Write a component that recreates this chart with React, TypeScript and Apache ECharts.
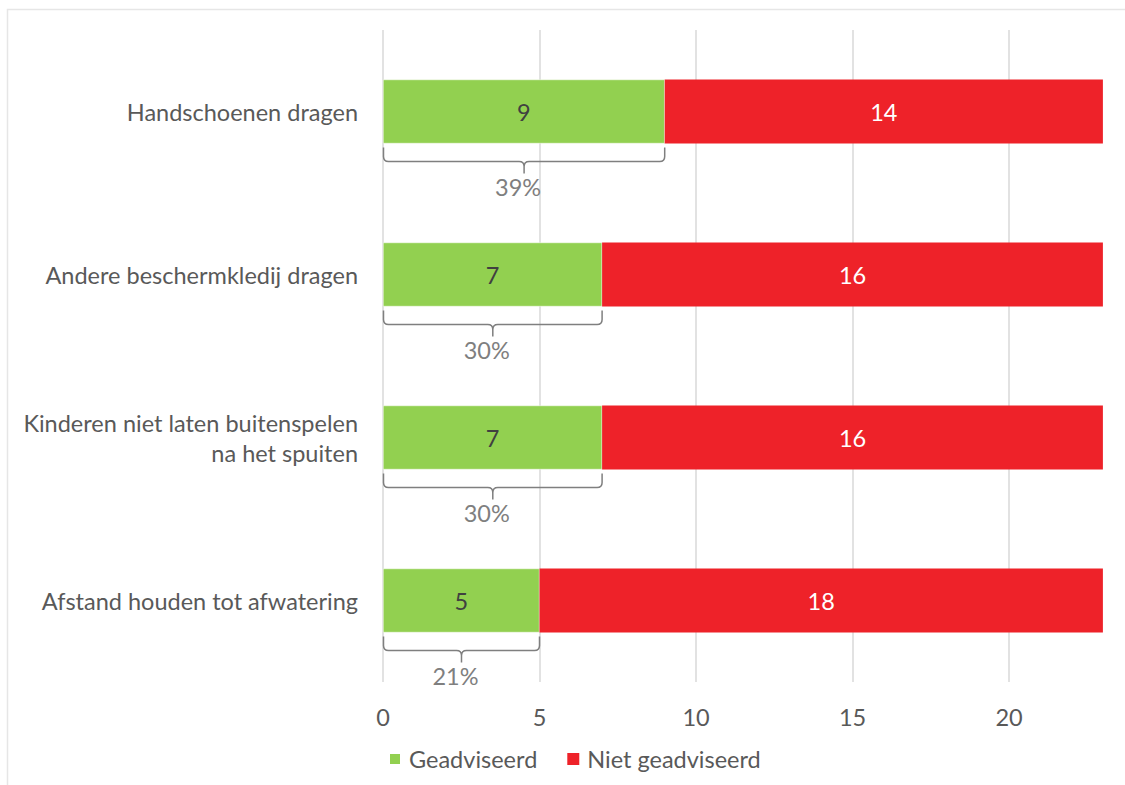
import React, { useEffect, useRef } from "react";
import * as echarts from "echarts";

const categories = [
  "Handschoenen dragen",
  "Andere beschermkledij dragen",
  "Kinderen niet laten buitenspelen\nna het spuiten",
  "Afstand houden tot afwatering",
];
const geadviseerd = [9, 7, 7, 5];
const nietGeadviseerd = [14, 16, 16, 18];
const percentLabels = ["39%", "30%", "30%", "21%"];
const xTicks = [0, 5, 10, 15, 20, 25];

const FONT = "Lato, 'Noto Sans', sans-serif";
const FS = 23.5;
const GREEN = "#92d050";
const RED = "#ee2229";
const TEXT = "#595959";
const BRACKET = "#7f7f7f";

export default function App() {
  const ref = useRef<HTMLDivElement>(null);
  useEffect(() => {
    if (!ref.current) return;
    const chart = echarts.init(ref.current, undefined, { renderer: "svg" });
    const bracketData = geadviseerd.map((v, i) => [v, i, percentLabels[i]]);
    chart.setOption({
      animation: false,
      backgroundColor: "#ffffff",
      textStyle: { fontFamily: FONT },
      graphic: [
        {
          type: "rect",
          shape: { x: 7.5, y: 9.5, width: 1200, height: 900 },
          style: { fill: "none", stroke: "#e6e6e6", lineWidth: 1.5 },
          silent: true,
          z: -10,
        },
      ],
      grid: {
        left: 383,
        width: 782.5,
        top: 30,
        bottom: 103,
        containLabel: false,
        outerBoundsMode: "none",
      },
      legend: {
        bottom: 9,
        left: 383,
        itemWidth: 12,
        itemHeight: 12,
        itemGap: 30,
        icon: "rect",
        textStyle: { color: TEXT, fontSize: FS, fontFamily: FONT, padding: [0, 0, 0, 3] },
        data: ["Geadviseerd", "Niet geadviseerd"],
      },
      xAxis: {
        type: "value",
        min: 0,
        max: xTicks[xTicks.length - 1],
        interval: 5,
        axisLine: { show: false },
        axisTick: { show: false },
        splitLine: { show: true, lineStyle: { color: "#d9d9d9", width: 1.5 } },
        axisLabel: {
          color: TEXT,
          fontSize: FS,
          fontFamily: FONT,
          margin: 23,
          showMaxLabel: false,
        },
      },
      yAxis: {
        type: "category",
        data: categories,
        inverse: true,
        axisLine: { show: false },
        axisTick: { show: false },
        axisLabel: {
          color: TEXT,
          fontSize: FS,
          fontFamily: FONT,
          margin: 25,
          lineHeight: 30,
          align: "right",
        },
      },
      series: [
        {
          name: "Geadviseerd",
          type: "bar",
          stack: "total",
          barWidth: 64,
          data: geadviseerd,
          itemStyle: { color: GREEN, borderColor: "#ffffff", borderWidth: 0.5 },
          label: {
            show: true,
            position: "inside",
            color: "#404040",
            fontSize: FS,
            fontFamily: FONT,
          },
        },
        {
          name: "Niet geadviseerd",
          type: "bar",
          stack: "total",
          barWidth: 64,
          data: nietGeadviseerd,
          itemStyle: { color: RED },
          label: {
            show: true,
            position: "inside",
            color: "#ffffff",
            fontSize: FS,
            fontFamily: FONT,
          },
        },
        {
          name: "bracket",
          type: "custom",
          coordinateSystem: "cartesian2d",
          clip: false,
          silent: true,
          encode: { x: 0, y: 1 },
          data: bracketData,
          renderItem: (params: any, api: any) => {
            const v = api.value(0);
            const c = api.value(1);
            const p0 = api.coord([0, c]);
            const p1 = api.coord([v, c]);
            const x0 = p0[0] + 0.5;
            const x1 = p1[0];
            const xm = (x0 + x1) / 2;
            const yc = p0[1];
            const yt = yc + 36;
            const yh = yc + 50;
            const yb = yc + 62;
            const r = 5;
            const d =
              `M${x0} ${yt} L${x0} ${yh - r} Q${x0} ${yh} ${x0 + r} ${yh} ` +
              `L${xm - r} ${yh} Q${xm} ${yh} ${xm} ${yh + r} L${xm} ${yb} ` +
              `M${xm} ${yh + r} Q${xm} ${yh} ${xm + r} ${yh} ` +
              `L${x1 - r} ${yh} Q${x1} ${yh} ${x1} ${yh - r} L${x1} ${yt}`;
            return {
              type: "group",
              children: [
                {
                  type: "path",
                  shape: { pathData: d },
                  style: { fill: "none", stroke: BRACKET, lineWidth: 1.5 },
                },
                {
                  type: "text",
                  style: {
                    text: String(percentLabels[c]),
                    x: xm - 6,
                    y: yc + 75,
                    align: "center",
                    verticalAlign: "middle",
                    fill: BRACKET,
                    fontSize: FS,
                    fontFamily: FONT,
                  },
                },
              ],
            };
          },
        },
      ],
    });
    return () => chart.dispose();
  }, []);
  return (
    <div
      ref={ref}
      style={{ position: "absolute", left: 0, top: 0, width: 1125, height: 785 }}
    />
  );
}
